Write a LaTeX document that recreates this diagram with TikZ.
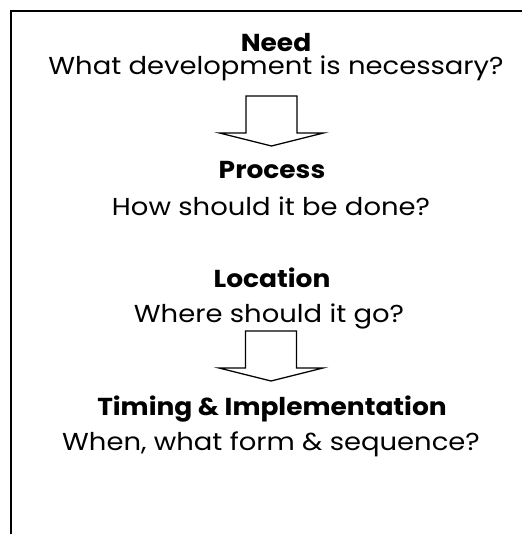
\documentclass[tikz,border=0pt]{standalone}
\usepackage{fontspec}
\setmainfont{Poppins}
\begin{document}
\begin{tikzpicture}[x=1pt,y=1pt,
  txt/.style={anchor=base,inner sep=0pt,xscale=1.12,transform shape,font=\fontsize{24.5}{28}\selectfont},
  hd/.style={anchor=base,inner sep=0pt,xscale=1.08,transform shape,font=\fontsize{24.5}{28}\selectfont\bfseries},
  blockarrow/.style={draw=black,line width=1.3pt,line join=miter,fill=white}]
\useasboundingbox (0,0) rectangle (522,-534);
\draw[line width=1.5pt] (522,-11) -- (11,-11) -- (11,-534);
\node[hd]  (need)  at (276,-52)  {Need};
\node[txt] (needq) at (276,-75)  {What development is necessary?};
\node[hd]  (proc)  at (272,-179) {Process};
\node[txt] (procq) at (271,-215) {How should it be done?};
\node[hd]  (loc)   at (272,-287) {Location};
\node[txt] (locq)  at (269,-322) {Where should it go?};
\node[hd]  (tim)   at (272,-415) {Timing \& Implementation};
\node[txt] (timq)  at (271,-450) {When, what form \& sequence?};
\coordinate (a1) at (271.5,-96);
\coordinate (a2) at (271,-331);
\foreach \c in {a1,a2}{
  \draw[blockarrow] (\c) ++(-25.5,0) -- ++(0,-37) -- ++(-26.5,0) -- ++(52,-13)
    -- ++(52,13) -- ++(-26.5,0) -- ++(0,37) -- cycle;
}
\end{tikzpicture}
\end{document}
